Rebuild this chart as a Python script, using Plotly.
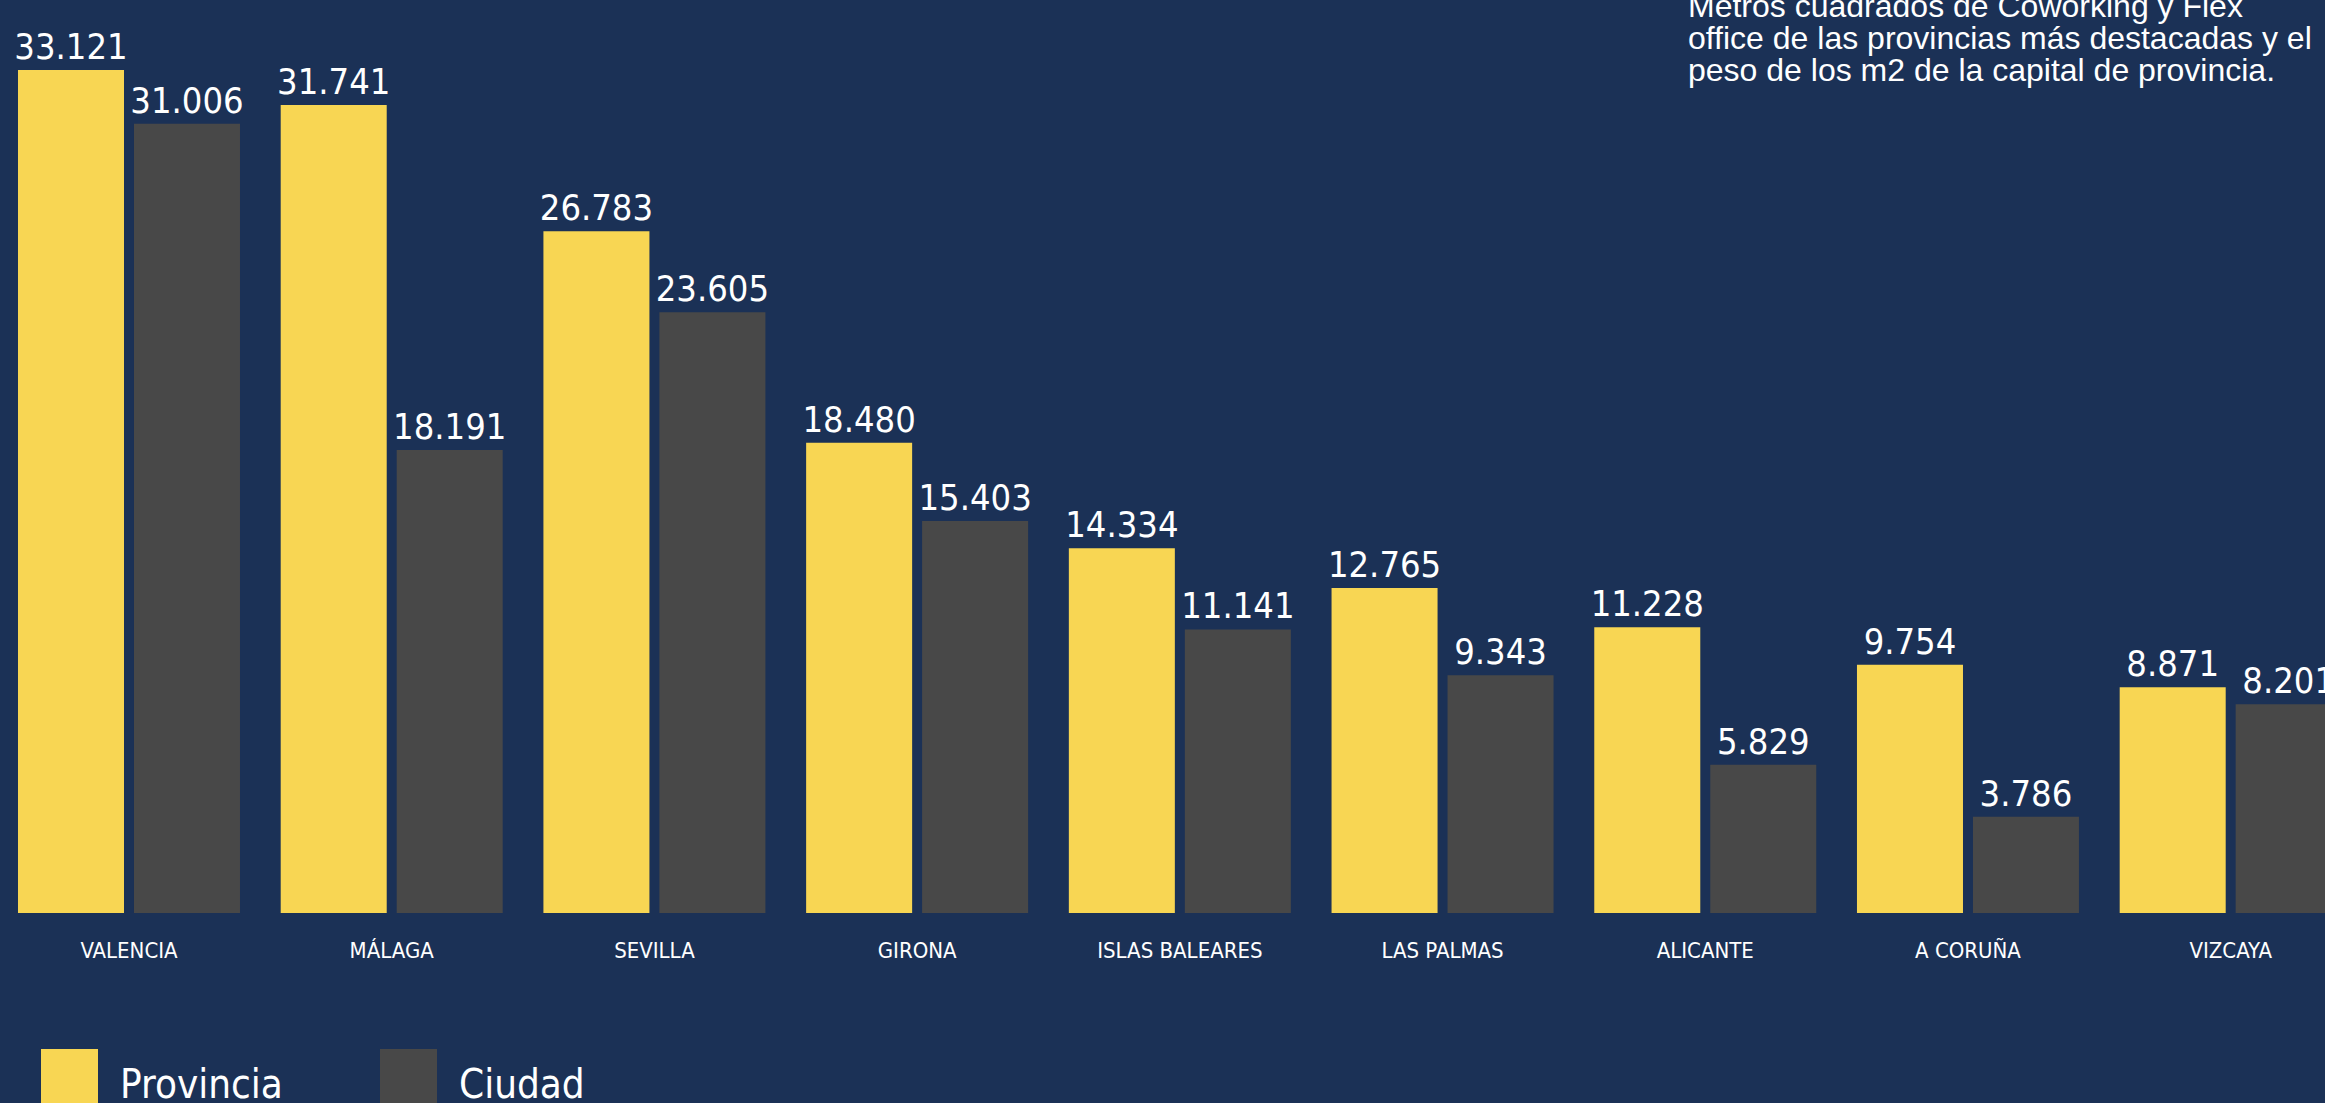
import plotly.graph_objects as go


#DATA (m2 of coworking / flex office):
provincias = ["VALENCIA", "MÁLAGA", "SEVILLA", "GIRONA", "ISLAS BALEARES",
              "LAS PALMAS", "ALICANTE", "A CORUÑA", "VIZCAYA"]
provincia_m2 = [33121, 31741, 26783, 18480, 14334, 12765, 11228, 9754, 8871]
ciudad_m2 = [31006, 18191, 23605, 15403, 11141, 9343, 5829, 3786, 8201]

series_names = ["Provincia", "Ciudad"]
note_lines = ["Metros cuadrados de Coworking y Flex",
              "office de las provincias más destacadas y el",
              "peso de los m2 de la capital de provincia."]

BG = "#1B3156"
YELLOW = "#F8D653"
GREY = "#484848"
NARROW = "DejaVu Sans Condensed, Liberation Sans Narrow, sans-serif"
W, H = 2325, 1103
PLOT_H = 913


def bar_trace(name, values, color):
    return go.Bar(x=provincias, y=values, name=name,
                  marker=dict(color=color, line=dict(width=0)),
                  texttemplate="%{y:,.0f}", textposition="outside",
                  textfont=dict(family=NARROW, size=36, color="white"),
                  constraintext="none", cliponaxis=False,
                  showlegend=False)


fig = go.Figure()
fig.add_trace(bar_trace(series_names[0], provincia_m2, YELLOW))
fig.add_trace(bar_trace(series_names[1], ciudad_m2, GREY))

fig.update_layout(
    width=W, height=H,
    paper_bgcolor=BG, plot_bgcolor=BG,
    margin=dict(l=0, r=0, t=0, b=H - PLOT_H, pad=0),
    barmode="group", bargap=0.117, bargroupgap=0.086,
    separators=",.",
    font=dict(family=NARROW, color="white"),
)
fig.update_xaxes(range=[-0.491, 8.359], showgrid=False, showline=False,
                 zeroline=False, ticks="", ticklabelstandoff=22,
                 tickfont=dict(family=NARROW, size=22, color="white"))
fig.update_yaxes(range=[0, 35871], visible=False, showgrid=False, zeroline=False)


#NOTE IN THE TOP RIGHT CORNER (one annotation per line to keep it tight):
for i, line in enumerate(note_lines):
    ypix = 6 + 32 * i
    fig.add_annotation(text=line, xref="paper", yref="paper",
                       x=1686 / W, y=1 - ypix / PLOT_H,
                       xanchor="left", yanchor="middle", showarrow=False,
                       font=dict(family="Liberation Sans, Arial, sans-serif",
                                 size=32, color="white"))


#LEGEND DRAWN BY HAND (big swatches at the bottom left):
legend_x = [41, 380]
for name, color, x0 in zip(series_names, [YELLOW, GREY], legend_x):
    fig.add_shape(type="rect", xref="paper", yref="paper",
                  x0=x0 / W, x1=(x0 + 57) / W,
                  y0=(PLOT_H - 1049) / PLOT_H, y1=(PLOT_H - 1110) / PLOT_H,
                  fillcolor=color, line=dict(width=0))
    fig.add_annotation(text=name, xref="paper", yref="paper",
                       x=(x0 + 77) / W, y=(PLOT_H - 1084) / PLOT_H,
                       xanchor="left", yanchor="middle", showarrow=False,
                       font=dict(family=NARROW, size=40, color="white"))

#no white page margin round the figure, no modebar
fig.write_html("out.html", config={"displayModeBar": False},
               post_script="document.body.style.margin='0';")
